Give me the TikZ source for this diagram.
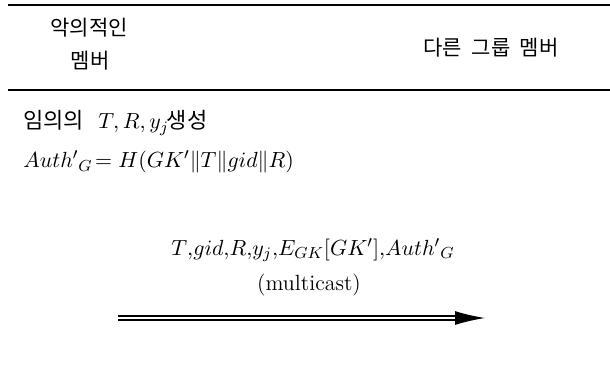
\documentclass[tikz,border=0pt]{standalone}
\usepackage{amsmath}
\usepackage{fontspec}
\newfontfamily\krfont{Noto Sans CJK KR}
\usetikzlibrary{arrows.meta}

\begin{document}
\begin{tikzpicture}[x=0.5pt,y=-0.5pt]
    % Define styles
    \tikzstyle{label} = [inner sep=0pt, font=\fontsize{11}{13}\selectfont]
    \tikzstyle{krlabel} = [inner sep=0pt, font=\krfont\fontsize{10.5}{13}\selectfont]
    \tikzstyle{rule} = [line width=0.65pt]
    \tikzstyle{multiarrow} = [double, double distance=1.4pt, line width=0.6pt, -{Latex[length=15pt,width=7pt]}]

    \useasboundingbox (0,0) rectangle (610,370);

    % Header
    \draw [rule] (8,5) -- (610,5);
    \node (mal1) [krlabel] at (89,28) {악의적인};
    \node (mal2) [krlabel] at (90,61) {멤버};
    \node (others) [krlabel] at (491,48) {다른\ \ 그룹\ \ 멤버};
    \draw [rule] (8,90) -- (610,90);

    % Computation of the malicious member
    \node (gen) [label, anchor=west] at (23,123) {{\krfont 임의의}\ \ $T,R,y_j$\hspace{-1pt}{\krfont 생성}};
    \node (auth) [label, anchor=west] at (23,162) {$Auth'{}_G\!=H(GK'\|T\|gid\|R)$};

    % Message
    \node (msg) [label] at (313,250) {$T{,}gid{,}R{,}y_j{,}E_{GK}[GK']{,}Auth'{}_G$};
    \node (mc) [label] at (309,285) {(multicast)};
    \coordinate (src) at (118,318);
    \coordinate (dst) at (485,318);
    \draw [multiarrow] (src) -- (dst);
\end{tikzpicture}
\end{document}
